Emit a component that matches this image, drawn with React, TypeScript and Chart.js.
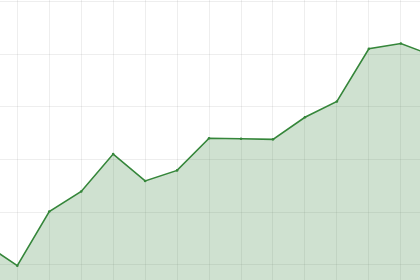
import React, { useEffect, useRef } from "react";
import { Chart, registerables } from "chart.js";

Chart.register(...registerables);

const xIndex = [0, 1, 2, 3, 4, 5, 6, 7, 8, 9, 10, 11, 12, 13, 14];
const values = [13.9, 9.8, 20.1, 23.9, 31.0, 25.9, 27.9, 34.0, 33.9, 33.8, 38.0, 41.0, 51.0, 52.0, 49.7];

const X_MIN = 0.459;
const X_MAX = 13.6;
const Y_MIN = 7.09;
const Y_MAX = 60.26;

export default function App() {
  const ref = useRef<HTMLCanvasElement | null>(null);

  useEffect(() => {
    if (!ref.current) return;
    const chart = new Chart(ref.current, {
      type: "line",
      data: {
        datasets: [
          {
            data: xIndex.map((x, i) => ({ x, y: values[i] })),
            borderColor: "#35863a",
            backgroundColor: "rgba(46,125,50,0.23)",
            borderWidth: 1.6,
            fill: "origin",
            pointRadius: 1.3,
            pointBackgroundColor: "#35863a",
            pointBorderWidth: 0,
            tension: 0,
          },
        ],
      },
      options: {
        animation: false,
        responsive: false,
        maintainAspectRatio: false,
        layout: { padding: 0, autoPadding: false },
        plugins: { legend: { display: false }, tooltip: { enabled: false } },
        scales: {
          x: {
            type: "linear",
            min: X_MIN,
            max: X_MAX,
            ticks: { display: false, stepSize: 1, includeBounds: false },
            grid: { drawTicks: false, color: "rgba(0,0,0,0.065)" },
            border: { display: false },
          },
          y: {
            type: "linear",
            min: Y_MIN,
            max: Y_MAX,
            ticks: { display: false, stepSize: 10, includeBounds: false },
            grid: { drawTicks: false, color: "rgba(0,0,0,0.065)" },
            border: { display: false },
          },
        },
      },
    });
    return () => chart.destroy();
  }, []);

  return (
    <div style={{ position: "fixed", left: 0, top: 0, width: 420, height: 280, background: "#fff" }}>
      <canvas ref={ref} width={420} height={280} style={{ display: "block" }} />
    </div>
  );
}
